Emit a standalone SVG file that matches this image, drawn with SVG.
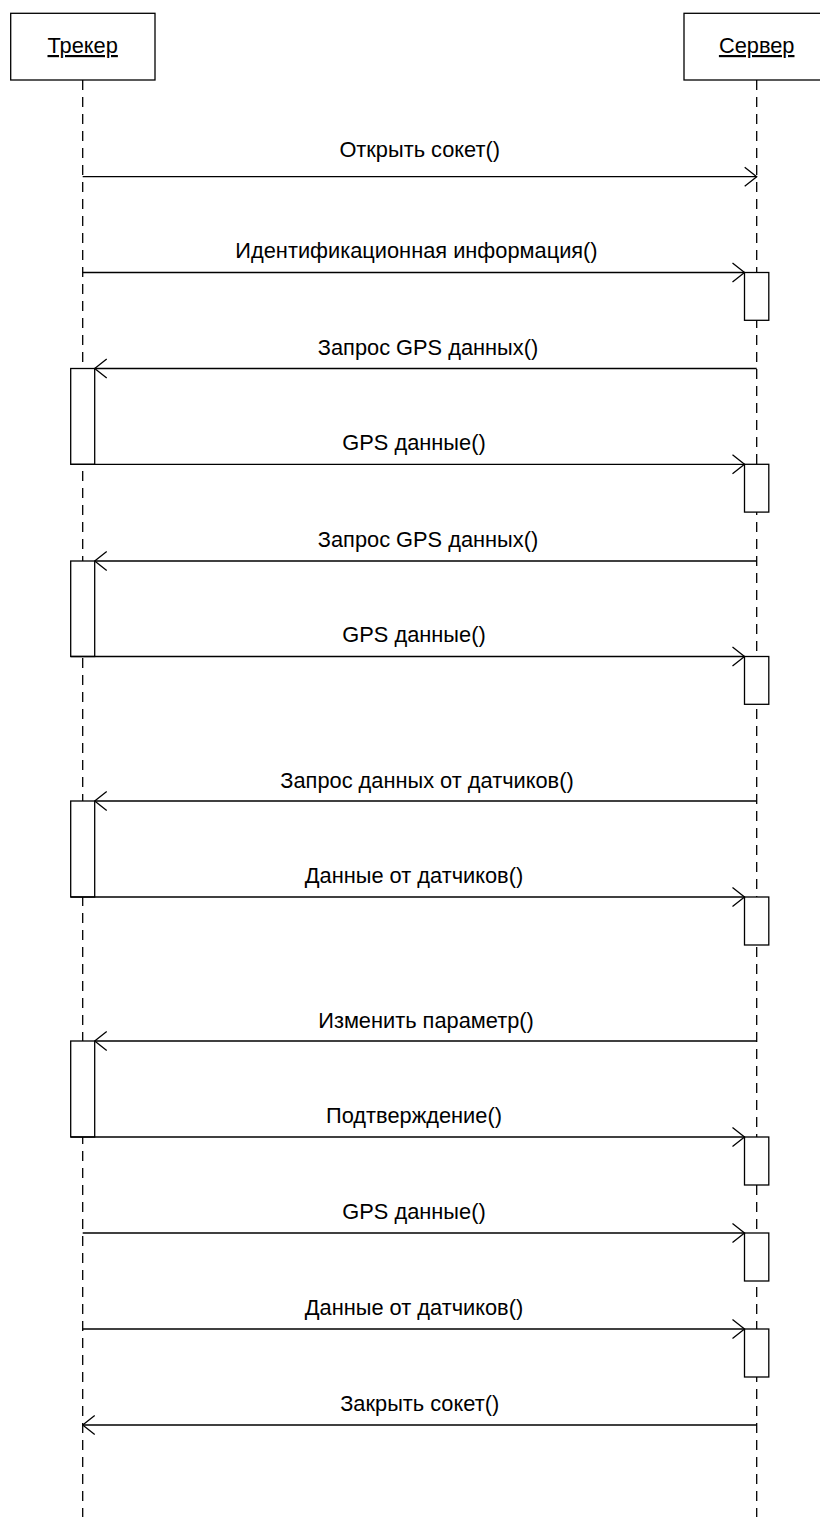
<svg xmlns="http://www.w3.org/2000/svg" width="820" height="1517" viewBox="0 0 820 1517">
<style>
.box{fill:#fff;stroke:#000;stroke-width:1.3}
.life{stroke:#000;stroke-width:1.3;stroke-dasharray:10 7;fill:none}
.msg{stroke:#000;stroke-width:1.3;fill:none}
.act{fill:#fff;stroke:#000;stroke-width:1.3}
.lbl{font-family:"Liberation Sans",Arial,sans-serif;font-size:21.8px;fill:#000;text-anchor:middle}
.ttl{font-family:"Liberation Sans",Arial,sans-serif;font-size:21.8px;fill:#000;text-anchor:middle;text-decoration:underline}
</style>
<defs>
<marker id="open" viewBox="0 0 14 22" refX="13" refY="11" markerWidth="14" markerHeight="22" markerUnits="userSpaceOnUse" orient="auto">
<path d="M1,1.5 L13,11 L1,20.5" fill="none" stroke="#000" stroke-width="1.3"/>
</marker>
</defs>
<g id="lifelines">
<line class="life" x1="82.7" y1="80" x2="82.7" y2="1517"/>
<line class="life" x1="756.7" y1="80" x2="756.7" y2="1517"/>
</g>
<g id="tracker">
<rect class="box" x="10.7" y="13.3" width="144.3" height="66.7"/>
<text class="ttl" x="82.7" y="53">Трекер</text>
</g>
<g id="server">
<rect class="box" x="684" y="13.3" width="145" height="66.7"/>
<text class="ttl" x="756.7" y="53">Сервер</text>
</g>
<g id="activations">
<rect class="act" x="744.5" y="272.5" width="24.3" height="47.8"/>
<rect class="act" x="70.7" y="368.5" width="24" height="95.8"/>
<rect class="act" x="744.5" y="464.3" width="24.3" height="47.8"/>
<rect class="act" x="70.7" y="561" width="24" height="95.5"/>
<rect class="act" x="744.5" y="656.5" width="24.3" height="47.8"/>
<rect class="act" x="70.7" y="801" width="24" height="96"/>
<rect class="act" x="744.5" y="897" width="24.3" height="48"/>
<rect class="act" x="70.7" y="1041" width="24" height="96"/>
<rect class="act" x="744.5" y="1137" width="24.3" height="48"/>
<rect class="act" x="744.5" y="1233" width="24.3" height="48"/>
<rect class="act" x="744.5" y="1329" width="24.3" height="48"/>
</g>
<g id="connectors">
<line class="msg" x1="82.7" y1="176.7" x2="756.7" y2="176.7" marker-end="url(#open)"/>
<line class="msg" x1="82.7" y1="272.5" x2="744.5" y2="272.5" marker-end="url(#open)"/>
<line class="msg" x1="756.7" y1="368.5" x2="94.7" y2="368.5" marker-end="url(#open)"/>
<line class="msg" x1="70.7" y1="464.3" x2="744.5" y2="464.3" marker-end="url(#open)"/>
<line class="msg" x1="756.7" y1="561" x2="94.7" y2="561" marker-end="url(#open)"/>
<line class="msg" x1="70.7" y1="656.5" x2="744.5" y2="656.5" marker-end="url(#open)"/>
<line class="msg" x1="756.7" y1="801" x2="94.7" y2="801" marker-end="url(#open)"/>
<line class="msg" x1="70.7" y1="897" x2="744.5" y2="897" marker-end="url(#open)"/>
<line class="msg" x1="756.7" y1="1041" x2="94.7" y2="1041" marker-end="url(#open)"/>
<line class="msg" x1="70.7" y1="1137" x2="744.5" y2="1137" marker-end="url(#open)"/>
<line class="msg" x1="82.7" y1="1233" x2="744.5" y2="1233" marker-end="url(#open)"/>
<line class="msg" x1="82.7" y1="1329" x2="744.5" y2="1329" marker-end="url(#open)"/>
<line class="msg" x1="756.7" y1="1425" x2="82.7" y2="1425" marker-end="url(#open)"/>
</g>
<g id="labels">
<text class="lbl" x="419.7" y="157">Открыть сокет()</text>
<text class="lbl" x="416.5" y="258">Идентификационная информация()</text>
<text class="lbl" x="428" y="355">Запрос GPS данных()</text>
<text class="lbl" x="414" y="450">GPS данные()</text>
<text class="lbl" x="428" y="547">Запрос GPS данных()</text>
<text class="lbl" x="414" y="642">GPS данные()</text>
<text class="lbl" x="427" y="788">Запрос данных от датчиков()</text>
<text class="lbl" x="414" y="883">Данные от датчиков()</text>
<text class="lbl" x="426" y="1028">Изменить параметр()</text>
<text class="lbl" x="414" y="1123">Подтверждение()</text>
<text class="lbl" x="414" y="1219">GPS данные()</text>
<text class="lbl" x="414" y="1315">Данные от датчиков()</text>
<text class="lbl" x="419.7" y="1411">Закрыть сокет()</text>
</g>
</svg>
